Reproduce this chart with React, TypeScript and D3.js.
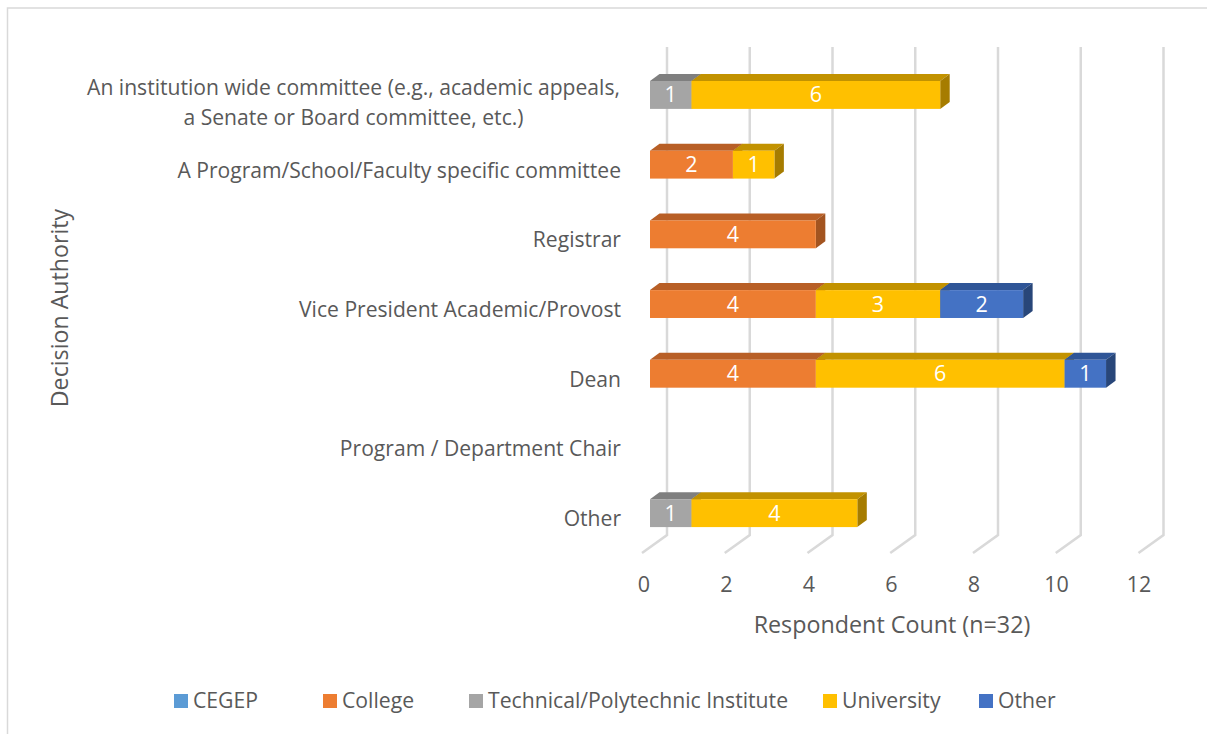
import React from "react";
import * as d3 from "d3";

const categories = [
  ["An institution wide committee (e.g., academic appeals,", "a Senate or Board committee, etc.)"],
  ["A Program/School/Faculty specific committee"],
  ["Registrar"],
  ["Vice President Academic/Provost"],
  ["Dean"],
  ["Program / Department Chair"],
  ["Other"],
];
const cegep = [0, 0, 0, 0, 0, 0, 0];
const college = [0, 2, 4, 4, 4, 0, 0];
const technical = [1, 0, 0, 0, 0, 0, 1];
const university = [6, 1, 0, 3, 6, 0, 4];
const otherSeries = [0, 0, 0, 2, 1, 0, 0];
const seriesNames = ["CEGEP", "College", "Technical/Polytechnic Institute", "University", "Other"];
const seriesValues = [cegep, college, technical, university, otherSeries];
const colors = ["#5B9BD5", "#ED7D31", "#A5A5A5", "#FFC000", "#4472C4"];
const topColors = ["#4A7FAF", "#B85F26", "#7F7F7F", "#C29200", "#2F5597"];
const sideColors = ["#3F6C95", "#A35420", "#6E6E6E", "#A67C00", "#284679"];
const ticks = [0, 2, 4, 6, 8, 10, 12];
const legendX = [174, 323, 469, 823, 979];

const font = "'Open Sans', sans-serif";
const DX = 9.5;
const DY = 7;

export default function App() {
  const x = d3.scaleLinear().domain([0, 12]).range([650, 1147.5]);
  const grid = d3.scaleLinear().domain([0, 12]).range([667, 1163.5]);
  const tickPos = d3.scaleLinear().domain([0, 12]).range([644, 1139]);
  const y = d3
    .scaleBand<number>()
    .domain(d3.range(categories.length))
    .range([60.1, 548])
    .paddingInner(0.6)
    .paddingOuter(0.3);
  const stack = d3
    .stack<number>()
    .keys(d3.range(seriesNames.length) as any)
    .value((i, k) => seriesValues[k as any][i]);
  const layers = stack(d3.range(categories.length));
  const bw = y.bandwidth();

  return (
    <svg
      width={1207}
      height={734}
      style={{ position: "absolute", left: 0, top: 0, background: "#fff", fontFamily: font }}
    >
      <path d="M7.5,734V8H1207" fill="none" stroke="#D9D9D9" strokeWidth={1.5} />

      {ticks.map((t) => (
        <g key={t}>
          <path
            d={`M${grid(t)},47V535L${grid(t) - 25},553`}
            fill="none"
            stroke="#D9D9D9"
            strokeWidth={2.5}
          />
          <text x={tickPos(t)} y={591.5} textAnchor="middle" fontSize={21.5} fill="#595959">
            {t}
          </text>
        </g>
      ))}

      {categories.map((lines, i) => {
        const cy = y(i)! + bw / 2;
        const start = lines.length > 1 ? cy : cy + 13;
        return lines.map((l, j) => (
          <text
            key={j}
            x={lines.length > 1 ? 353.5 : 621}
            y={start + j * 30}
            textAnchor={lines.length > 1 ? "middle" : "end"}
            fontSize={21.1}
            fill="#595959"
          >
            {l}
          </text>
        ));
      })}

      {categories.map((_, i) => {
        const top = y(i)!;
        return (
          <g key={i}>
            {layers.map((layer, s) => {
              const [a, b] = layer[i];
              if (b - a <= 0) return null;
              const x0 = x(a);
              const x1 = x(b);
              return (
                <g key={s}>
                  <path
                    d={`M${x0},${top}L${x0 + DX},${top - DY}H${x1 + DX}L${x1},${top}Z`}
                    fill={topColors[s]}
                  />
                  <path
                    d={`M${x1},${top}L${x1 + DX},${top - DY}V${top + bw - DY}L${x1},${top + bw}Z`}
                    fill={sideColors[s]}
                  />
                  <rect x={x0} y={top} width={x1 - x0} height={bw} fill={colors[s]} />
                  <text
                    x={(x0 + x1) / 2}
                    y={top + bw / 2 + 7.5}
                    textAnchor="middle"
                    fontSize={21.5}
                    fill="#fff"
                  >
                    {b - a}
                  </text>
                </g>
              );
            })}
          </g>
        );
      })}

      <text x={892} y={633} textAnchor="middle" fontSize={23.3} fill="#595959">
        Respondent Count (n=32)
      </text>
      <text
        transform="translate(68,308) rotate(-90)"
        textAnchor="middle"
        fontSize={23.2}
        fill="#595959"
      >
        Decision Authority
      </text>

      {seriesNames.map((n, s) => (
        <g key={n}>
          <rect x={legendX[s]} y={694} width={14} height={14} fill={colors[s]} />
          <text x={legendX[s] + 19} y={708} fontSize={21.2} fill="#595959">
            {n}
          </text>
        </g>
      ))}
    </svg>
  );
}
